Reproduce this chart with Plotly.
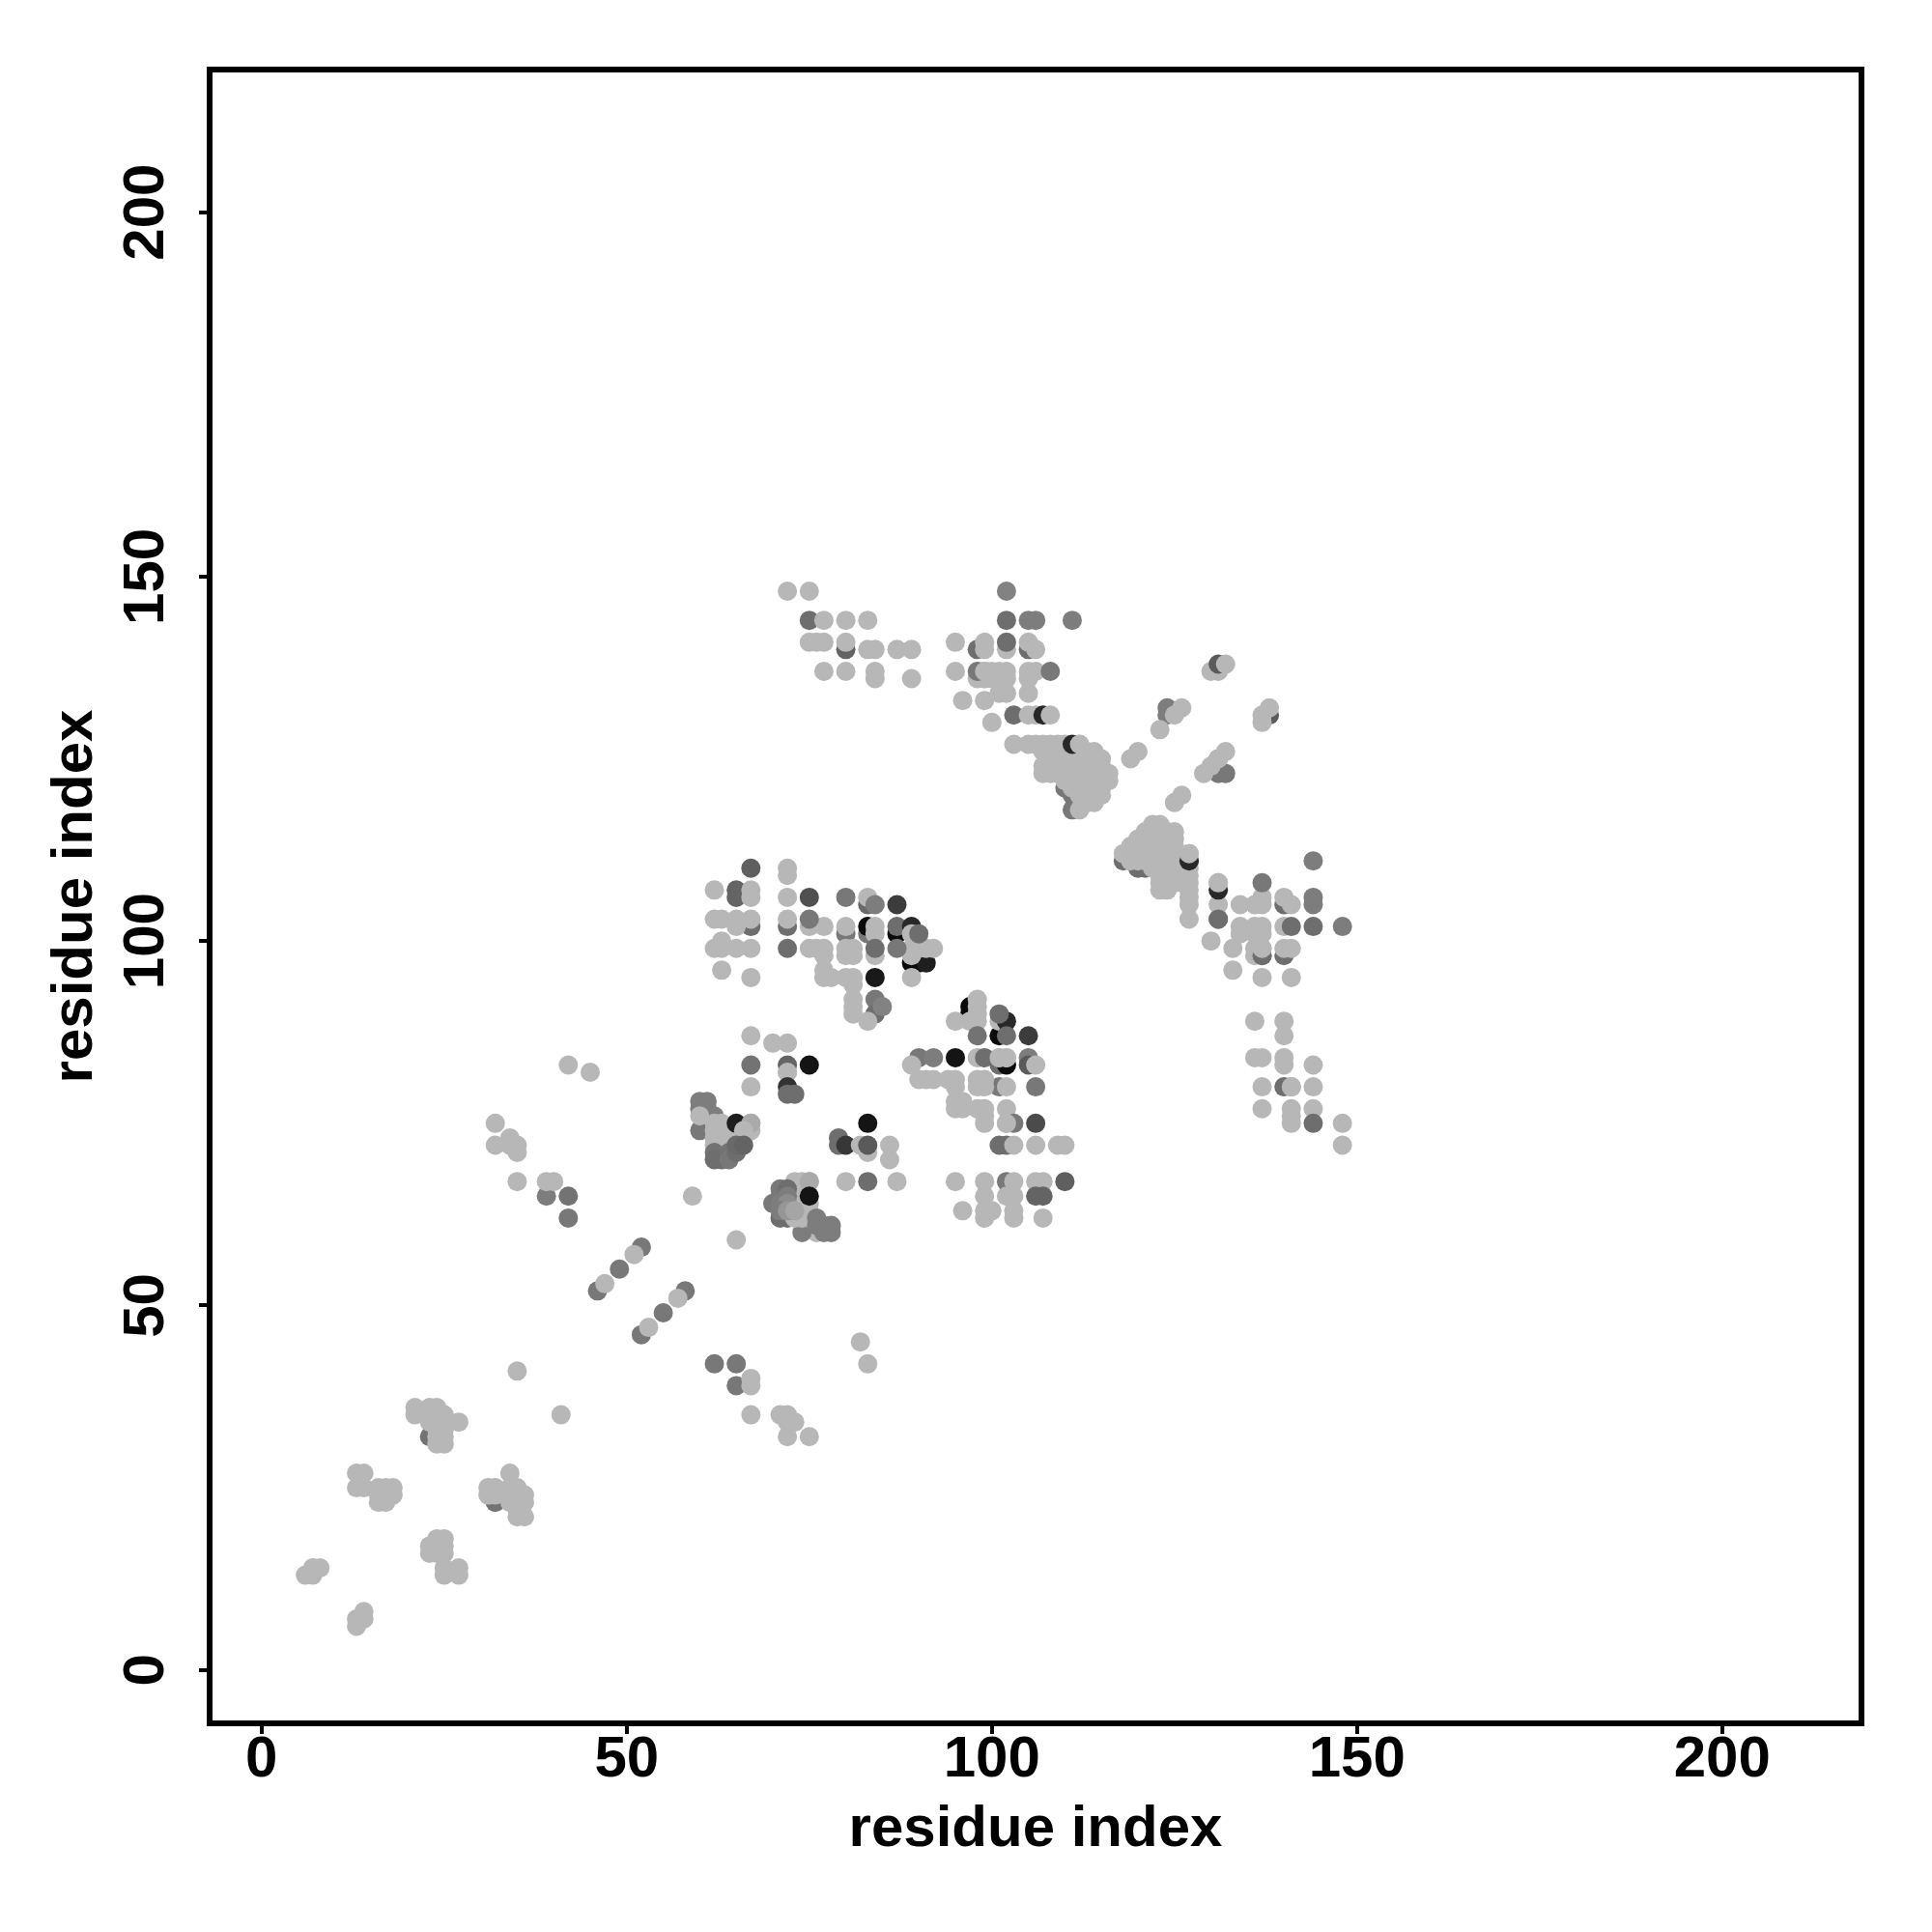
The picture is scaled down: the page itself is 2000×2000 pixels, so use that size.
import plotly.graph_objects as go

# Each contact is (residue i, residue j) or (residue i, residue j, grey level).
# Drawn first: contacts overlapped by the pale ones.
under_contacts = [
    (75,144,110),(102,144,110),(105,144,125),(106,144,125),(111,144,125),
    (80,140,100),(98,140,110),(105,140,110),(103,131,110),
    (65,107,100),(65,106,100),(83,105,105),(87,101,10),(87,102,110),(67,102,110),(72,102,110),
    (80,101,120),(83,101,120),(83,102,10),(89,102,40),(89,97,10),(90,97,10),(91,97,30),
    (84,92,120),(84,90,110),(97,91,10),(97,90,10),
    (90,84,120),(105,84,125),(101,83,110),(102,83,10),(105,83,90),(101,87,10),
    (101,80,120),(102,72,110),(101,72,110),(102,67,120),
    (79,73,110),(79,72,110),(80,72,55),(83,67,110),
    (39,65,125),(42,65,115),(42,62,120),(52,58,120),(49,55,120),(46,52,120),
    (58,52,120),(55,49,120),(52,46,120),(62,42,120),(65,42,120),(65,39,120),
    (23,32,115),(32,23,115),
    (118,111,110),(119,111,110),(120,110,110),(121,110,110),(127,111,40),
    (110,121,120),(111,120,120),(112,119,120),(113,119,120),(111,118,120),
    (144,106,125),(144,105,125),(140,105,110),(137,98,110),(140,98,110),
    (131,103,110),(138,131,90),(124,132,125),(124,131,125),(131,123,120),(132,123,120),(131,125,120),
    (60,78,125),(61,78,125),(60,77,125),(61,77,125),(61,76,125),(62,76,125),(60,74,120),
    (70,64,120),(71,62,110),(72,62,110),
    (76,60,183),(74,60,125),(77,61,125),(78,61,125),(77,60,125),(78,60,125),
    (71,66,120),
]

# Pale contacts by region
light_upper_left = [
    (72,148),(75,148),(77,144),(80,144),(83,144),(75,141),(76,141),(77,141),(80,141),
    (83,140),(84,140),(87,140),(89,140),(77,137),(80,137),(84,137),(84,136),(89,136),
]
light_upper_mid = [
    (95,141),(99,141),(105,141),(99,140),(102,140),(106,140),
    (95,137),(99,137),(100,137),(101,137),(102,137),(105,137),(106,137),
    (98,136),(99,136),(100,136),(102,136),(105,136),(101,134),(102,134),(105,134),
    (96,133),(99,133),(105,131),(106,131),(100,130),
    (103,127),(105,127),(106,127),(107,127),(108,127),(109,127),(110,127),(112,127),
]
light_cluster_hi = [
    (107,126),(108,126),(109,126),(110,126),(111,126),(112,126),(113,126),(114,126),
    (110,125),(111,125),(112,125),(113,125),(114,125),(115,125),
    (107,124),(108,124),(109,124),(110,124),(111,124),(112,124),(113,124),(114,124),(115,124),
    (107,123),(108,123),(109,123),(110,123),(111,123),(112,123),(113,123),(114,123),(115,123),(116,123),
    (110,122),(111,122),(112,122),(113,122),(114,122),(115,122),(116,122),
    (111,121),(112,121),(113,121),(114,121),(115,121),
    (112,120),(113,120),(114,120),(115,120),(113,119),(114,119),(112,118),
]
light_diagonal_hi = [
    (119,125),(120,126),(123,129),(125,131),(126,132),(129,123),(132,126),(131,125),(130,124),
    (125,119),(126,120),(130,137),(131,137),(137,130),(137,131),(138,132),
]
light_cluster_lo = [
    (122,116),(123,116),(121,115),(122,115),(123,115),(124,115),(125,115),
    (120,114),(121,114),(122,114),(123,114),(124,114),(125,114),
    (119,113),(120,113),(121,113),(122,113),(123,113),(124,113),(125,113),
    (118,112),(119,112),(120,112),(121,112),(122,112),(123,112),(124,112),(125,112),(127,112),
    (119,111),(120,111),(121,111),(122,111),(123,111),(124,111),(125,111),
    (122,110),(123,110),(124,110),(125,110),(126,110),(127,110),
    (123,109),(124,109),(125,109),(126,109),(127,109),(123,108),(124,108),(125,108),(126,108),(127,108),
    (123,107),(124,107),(127,107),(127,106),(127,105),(127,103),
]
light_right = [
    (131,108),(131,105),(134,105),(136,105),(137,105),(137,106),(140,106),(141,105),
    (134,102),(136,102),(137,102),(140,102),(134,101),(136,101),(137,101),
    (133,99),(136,99),(137,99),(140,99),(141,99),(136,98),(130,100),(133,96),(137,95),(141,95),
    (136,89),(140,89),(140,87),(136,84),(137,84),(140,84),(140,83),(144,83),
    (137,80),(141,80),(144,80),(137,77),(141,77),(141,76),(141,75),(144,77),(148,75),(148,72),
]
light_mid_block = [
    (72,110),(72,109),(62,107),(67,107),(67,106),(72,106),(83,106),
    (62,103),(63,103),(65,103),(67,103),(72,103),(65,102),(75,102),(77,102),(80,102),(84,102),
    (84,101),(89,101),(63,100),(62,99),(63,99),(65,99),(67,99),(75,99),(76,99),(77,99),(80,99),(81,99),
    (89,99),(90,99),(91,99),(92,99),(77,98),(80,98),(81,98),(84,98),(89,98),(63,96),(77,96),
    (67,95),(77,95),(78,95),(80,95),(81,95),(89,95),(81,94),(81,92),(81,91),(81,90),(83,89),
]
light_lower_block = [
    (98,92),(98,91),(98,90),(98,89),(95,89),(97,89),(101,89),
    (89,83),(98,84),(101,84),(102,84),(90,81),(91,81),(92,81),(94,81),(95,81),(98,81),(99,81),
    (95,80),(98,80),(99,80),(102,80),(95,78),(96,78),(95,77),(96,77),(98,77),(99,77),(102,77),
    (99,76),(99,75),(102,75),(103,72),(106,72),(109,72),(110,72),
    (95,67),(99,67),(103,67),(106,67),(107,67),(99,65),(102,65),(103,65),
    (96,63),(99,63),(100,63),(103,63),(99,62),(103,62),(107,62),
]
light_left = [
    (67,87),(70,86),(72,86),(67,80),(72,82),(82,72),(86,72),(86,70),(80,67),(87,67),(83,71),
    (59,65),(65,59),(42,83),(45,82),(32,75),(32,72),(34,73),(35,72),(35,71),(34,72),
    (35,67),(39,67),(40,67),(51,57),(47,53),(57,51),(53,47),
    (82,45),(83,42),(67,40),(67,39),(35,41),(41,35),(67,35),(71,35),(72,35),(73,34),(72,34),(72,32),(75,32),
]
light_cluster_a = [
    (60,76),(62,75),(62,74),(62,73),(62,72),(63,75),(63,74),(63,73),(63,72),(63,71),
    (64,74),(64,73),(65,73),(66,73),(66,74),(67,75),(67,74),
]
light_cluster_b = [
    (73,67),(74,67),(75,67),(73,66),(73,65),(74,65),(73,64),(74,64),(75,64),
    (73,62),(74,63),(75,63),(74,62),(75,62),
]
light_low = [
    (21,36),(21,35),(23,36),(24,36),(25,35),(23,35),(24,35),(23,34),(24,34),(25,34),(27,34),
    (24,33),(25,33),(24,32),(25,32),(24,31),(25,31),
    (13,27),(14,27),(13,25),(14,25),(16,25),(17,25),(18,25),(16,24),(17,24),(18,24),(16,23),(17,23),
    (34,27),(31,25),(32,25),(31,24),(32,24),(34,25),(35,25),(34,24),(35,24),(36,24),(34,23),(35,23),(36,23),
    (35,22),(35,21),(36,21),
    (24,18),(25,18),(23,17),(24,17),(25,17),(23,16),(24,16),(25,16),(25,14),(25,13),(27,14),(27,13),
    (6,13),(7,13),(7,14),(8,14),(13,6),(13,7),(14,7),(14,8),
]

# Drawn last: contacts lying on top of the pale ones.
over_contacts = [
    (102,148,130),(102,141,110),(98,137,120),(99,137,183),(108,137,120),(107,131,40),(108,131,183),
    (111,127,40),(112,127,183),(131,138,90),(132,138,183),
    (67,110,95),(75,106,80),(80,106,120),(84,105,125),(87,105,60),(75,103,120),(90,101,110),
    (72,99,110),(84,99,110),(87,99,120),(84,95,25),(85,91,130),
    (98,87,115),(102,89,40),(102,87,110),(105,87,60),(101,90,110),(92,84,125),(95,84,20),(99,84,110),
    (101,84,183),(102,84,183),(106,83,183),(106,80,120),(103,75,120),(106,75,75),(102,75,183),
    (67,83,115),(72,83,100),(75,83,20),(72,82,183),(72,80,50),(72,79,110),(73,79,110),
    (83,75,20),(83,72,90),(65,75,30),(67,75,170),(66,74,183),(75,67,170),(75,65,20),
    (62,71,115),(62,70,110),(63,70,110),(64,71,115),(64,70,120),(65,71,110),(65,72,105),(66,72,100),
    (71,65,120),(72,66,110),(72,65,125),(71,64,125),(72,64,140),(71,63,125),(72,63,150),(73,63,165),
    (76,62,125),(76,61,125),
    (110,67,95),(106,65,100),(107,65,100),
    (131,107,40),(131,108,183),(137,108,120),(144,111,125),(141,102,110),(144,102,110),(148,102,125),
    (131,103,110),(137,98,110),(137,99,183),(144,75,110),(141,80,183),(140,80,110),(141,80,183),
    (127,111,40),(127,112,183),
]

def unpack(contacts):
    return [c[0] for c in contacts], [c[1] for c in contacts], [c[2] for c in contacts]

grey = lambda v: f"rgb({v},{v},{v})"
PALE = 183
light_contacts = (light_upper_left + light_upper_mid + light_cluster_hi + light_diagonal_hi + light_cluster_lo
                  + light_right + light_mid_block + light_lower_block + light_left + light_cluster_a
                  + light_cluster_b + light_low)

x_ticks = [0, 50, 100, 150, 200]
y_ticks = [0, 50, 100, 150, 200]
axis_title = "residue index"
FONT = "Liberation Sans"

fig = go.Figure()
for contacts in [under_contacts, [(x, y, PALE) for x, y in light_contacts], over_contacts]:
    xs, ys, shades = unpack(contacts)
    fig.add_trace(go.Scatter(x=xs, y=ys, mode="markers",
                             marker=dict(size=20, color=[grey(v) for v in shades], line=dict(width=0)),
                             showlegend=False))

common = dict(showgrid=False, zeroline=False, showline=True, mirror=True, linecolor="black", linewidth=6,
              ticks="outside", ticklen=8, tickwidth=4, tickcolor="black",
              tickfont=dict(family=FONT, size=60, color="black", weight="bold"))
title_font = dict(family=FONT, size=60, color="black", weight="bold")

fig.update_xaxes(range=[-6.72, 218.68], tickvals=x_ticks, ticktext=[str(t) for t in x_ticks],
                 ticklabelstandoff=-28,
                 title=dict(text=axis_title, font=title_font, standoff=20), **common)
fig.update_yaxes(range=[-6.93, 219.17], tickvals=y_ticks, ticktext=[str(t) for t in y_ticks], tickangle=-90,
                 ticklabelstandoff=13, ticklabelshift=9,
                 title=dict(text=axis_title, font=title_font, standoff=2), **common)
fig.update_layout(width=2000, height=2000, plot_bgcolor="white", paper_bgcolor="white",
                  margin=dict(l=212, r=84, t=67, b=227, autoexpand=False))
fig.write_html("out.html")
